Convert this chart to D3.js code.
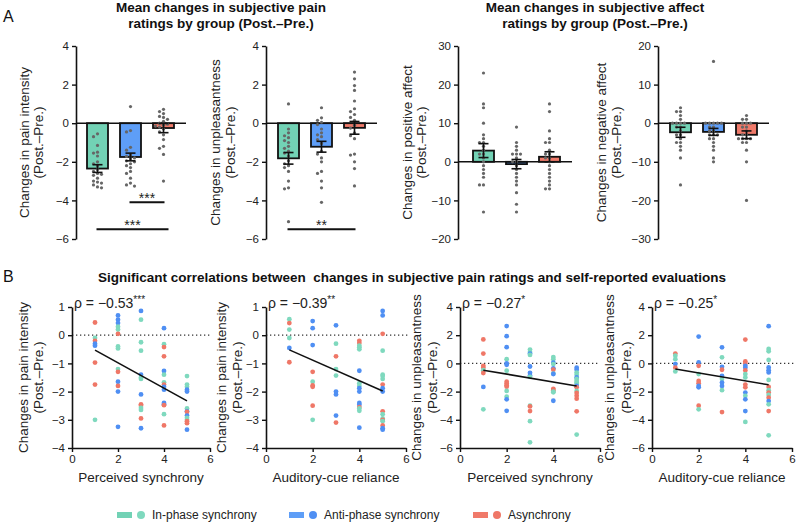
<!DOCTYPE html>
<html>
<head>
<meta charset="utf-8">
<script src="https://cdn.jsdelivr.net/npm/d3@7"></script>
<style>
  body { margin: 0; background: #fff; }
  svg { display: block; }
</style>
</head>
<body>
<script>
"use strict";

// ---- data ----
var groups = ["In-phase synchrony", "Anti-phase synchrony", "Asynchrony"];
var barColors = ["#72d2b5", "#5e9ef7", "#f07a6a"];
var dotColors = ["#7fd9be", "#4f8ff3", "#ef7767"];

// panel A: mean, sem, and individual changes (Post.-Pre.) per group
var painIntMeans = [-2.35, -1.75, -0.25];
var painIntSem = [0.2, 0.2, 0.24];
var painIntPts = [
	[-0.55, -0.7, -1.15, -1.5, -1.55, -1.7, -2.0, -2.1, -2.2, -2.4, -2.5, -2.6, -2.65, -2.7, -2.85, -3.0, -3.05, -3.1, -3.2, -3.3, -3.35],
	[0.86, -0.38, -0.45, -1.25, -1.4, -1.65, -1.72, -1.8, -1.85, -1.95, -2.0, -2.1, -2.2, -2.3, -2.5, -2.6, -2.85, -3.1, -3.2, -3.26],
	[0.72, 0.6, 0.5, 0.35, 0.3, 0.2, 0.1, 0, -0.05, -0.1, -0.15, -0.2, -0.3, -0.45, -0.6, -0.85, -1.2, -1.3, -1.62, -3.0]
];
var unplMeans = [-1.82, -1.22, -0.24];
var unplSem = [0.3, 0.28, 0.33];
var unplPts = [
	[1.0, -0.3, -0.5, -0.65, -0.75, -0.9, -1.0, -1.2, -1.3, -1.45, -1.55, -1.7, -1.95, -2.1, -2.2, -2.3, -2.5, -3.0, -3.35, -3.4, -5.1],
	[0.8, 0.28, 0.15, 0.05, -0.07, -0.3, -0.5, -0.6, -0.7, -0.85, -1.05, -1.45, -1.6, -1.8, -2.0, -2.5, -2.6, -3.0, -3.35, -4.1],
	[2.65, 2.3, 1.95, 1.7, 1.15, 0.75, 0.6, 0.45, 0.3, 0.15, -0.1, -0.25, -0.5, -0.65, -0.8, -1.6, -1.65, -2.0, -2.35, -3.25]
];
var posMeans = [2.9, -0.6, 1.3];
var posSem = [1.8, 1.2, 1.3];
var posPts = [
	[23, 15, 14, 10, 7, 6, 5, 5, 4, 3, 2, 2, 1, 0, -1, -2, -3, -4, -6, -6, -13],
	[9, 5, 4, 3, 2, 2, 2, 1, 0, 0, -1, -2, -3, -4, -5, -6, -8, -11, -13],
	[15, 13, 8, 6, 5, 5, 3, 2, 2, 1, 1, 0, -1, -2, -3, -4, -5, -6, -7, -7]
];
var negMeans = [-2.35, -2.25, -3.0];
var negSem = [1.3, 0.9, 1.0];
var negPts = [
	[4, 3, 3, 2, 1, 0, 0, 0, 0, -1, -1, -2, -3, -3, -4, -5, -5, -6, -7, -9, -16],
	[16, 0, 0, 0, 0, 0, -1, -1, -2, -2, -3, -3, -3, -4, -4, -5, -6, -7, -9, -10],
	[2, 1, 1, 0, 0, 0, -1, -1, -2, -3, -3, -4, -4, -4, -4, -5, -5, -7, -10, -20]
];
// significance brackets: [fromGroup, toGroup, yValue, label]
var painIntSig = [[1, 2, -4.1, "***"], [0, 2, -5.5, "***"]];
var unplSig = [[0, 2, -5.5, "**"]];

// panel B: [rating, change, group]
var syncVsInt = [
	[1,0.45,2],[1,-0.1,0],[1,-0.2,2],[1,-0.3,1],[1,-0.37,1],[1,-0.97,2],[1,-1.75,2],[1,-3.0,0],
	[2,0.7,1],[2,0.55,1],[2,0.43,1],[2,0.3,0],[2,0.2,0],[2,0.05,2],[2,-0.4,0],[2,-0.47,0],[2,-1.2,0],[2,-1.3,2],[2,-1.65,1],[2,-1.8,2],[2,-2.0,1],[2,-3.25,1],
	[3,0.86,1],[3,0.55,0],[3,-0.25,0],[3,-0.55,0],[3,-1.4,1],[3,-1.5,0],[3,-1.55,0],[3,-2.1,1],[3,-2.45,2],[3,-2.5,2],[3,-2.58,0],[3,-2.65,0],[3,-2.95,2],[3,-3.3,1],
	[4,0.25,1],[4,-0.32,0],[4,-0.42,2],[4,-0.75,2],[4,-1.27,1],[4,-1.4,0],[4,-1.67,0],[4,-1.75,2],[4,-1.83,1],[4,-1.93,1],[4,-2.4,1],[4,-2.45,1],[4,-2.48,2],[4,-2.8,0],[4,-3.2,2],
	[5,-1.45,0],[5,-1.75,0],[5,-1.83,0],[5,-1.93,1],[5,-2.0,1],[5,-2.6,0],[5,-2.7,1],[5,-2.72,2],[5,-2.85,1],[5,-2.93,0],[5,-3.0,0],[5,-3.05,2],[5,-3.12,2],[5,-3.35,1]
];
var cueVsInt = [
	[1,0.57,0],[1,0.43,2],[1,0.2,0],[1,-0.1,0],[1,-0.45,1],[1,-0.96,2],
	[2,0.5,1],[2,0.25,1],[2,-0.35,1],[2,-1.3,2],[2,-1.65,0],[2,-1.78,2],[2,-1.83,2],[2,-2.5,2],[2,-3.0,0],
	[3,0.35,1],[3,-0.3,0],[3,-0.75,2],[3,-1.2,0],[3,-1.43,0],[3,-2.0,1],[3,-2.1,1],[3,-2.85,1],[3,-3.1,2],
	[4,-0.2,2],[4,-0.28,2],[4,-0.37,0],[4,-0.43,0],[4,-0.5,0],[4,-1.26,1],[4,-1.7,0],[4,-1.8,0],[4,-1.88,1],[4,-2.0,1],[4,-2.4,1],[4,-2.47,1],[4,-2.55,2],[4,-2.6,0],[4,-2.68,0],[4,-3.28,1],
	[5,0.86,1],[5,0.7,1],[5,0.05,2],[5,-0.55,0],[5,-1.4,0],[5,-1.45,0],[5,-1.55,0],[5,-1.75,2],[5,-1.88,1],[5,-2.0,1],[5,-2.7,2],[5,-2.8,0],[5,-2.95,0],[5,-3.0,2],[5,-3.05,0],[5,-3.2,2],[5,-3.3,1],[5,-3.35,1]
];
var syncVsUnpl = [
	[1,1.7,2],[1,0.7,2],[1,-0.17,2],[1,-0.3,2],[1,-0.48,0],[1,-0.68,2],[1,-1.67,1],[1,-3.26,0],
	[2,2.65,1],[2,1.93,1],[2,1.15,1],[2,0.3,0],[2,0.0,1],[2,-0.1,1],[2,-0.52,0],[2,-1.3,2],[2,-1.43,2],[2,-1.55,2],[2,-1.65,2],[2,-1.95,0],[2,-2.36,0],[2,-2.55,1],[2,-3.36,1],
	[3,0.98,0],[3,0.8,0],[3,0.7,1],[3,0.6,0],[3,-0.22,1],[3,-0.67,1],[3,-0.85,1],[3,-0.95,0],[3,-3.0,0],[3,-3.05,2],[3,-3.38,2],[3,-4.1,0],[3,-5.6,0],
	[4,0.45,0],[4,0.3,0],[4,0.05,1],[4,-0.05,0],[4,-0.35,1],[4,-0.45,2],[4,-0.72,0],[4,-0.75,1],[4,-1.8,2],[4,-1.9,2],[4,-2.0,0],[4,-2.05,0],[4,-2.65,1],
	[5,-0.3,1],[5,-0.45,1],[5,-0.65,0],[5,-0.8,0],[5,-1.0,1],[5,-1.1,0],[5,-1.25,0],[5,-1.35,0],[5,-1.45,0],[5,-1.6,1],[5,-1.7,2],[5,-1.95,0],[5,-2.1,2],[5,-2.3,2],[5,-2.5,2],[5,-3.4,2],[5,-5.05,0]
];
var cueVsUnpl = [
	[1,0.7,2],[1,0.55,0],[1,0.3,0],[1,-0.05,1],[1,-0.3,2],[1,-0.57,0],
	[2,1.9,1],[2,0.07,1],[2,-0.17,2],[2,-0.76,0],[2,-1.24,2],[2,-1.4,2],[2,-1.6,1],[2,-1.7,1],[2,-3.0,2],[2,-3.26,0],
	[3,1.14,1],[3,0.43,0],[3,-0.24,1],[3,-0.45,2],[3,-0.88,1],[3,-1.1,0],[3,-1.36,1],[3,-1.6,1],[3,-1.9,0],[3,-3.45,2],
	[4,1.69,2],[4,0.14,2],[4,0.0,2],[4,-0.17,1],[4,-0.3,1],[4,-0.5,2],[4,-0.76,0],[4,-1.0,0],[4,-1.5,2],[4,-1.7,2],[4,-2.07,1],[4,-2.3,0],[4,-2.55,1],[4,-3.38,1],[4,-4.15,0],
	[5,2.64,1],[5,1.02,0],[5,0.86,0],[5,0.24,0],[5,-0.29,1],[5,-0.48,1],[5,-0.64,1],[5,-1.17,0],[5,-1.67,2],[5,-1.9,0],[5,-2.07,2],[5,-2.24,0],[5,-2.43,2],[5,-2.67,1],[5,-2.9,0],[5,-3.38,2],[5,-5.1,0]
];
// fitted line values at rating 1 and 5
var fitLines = [[-0.53, -2.33], [-0.52, -1.98], [-0.48, -1.6], [-0.4, -1.52]];
var rhoText = ["ρ = −0.53", "ρ = −0.39", "ρ = −0.27", "ρ = −0.25"];
var rhoStars = ["***", "**", "*", "*"];

var fmt = function (d) { return d < 0 ? "\u2212" + Math.abs(d) : String(d); };
var FONT = "'Liberation Sans', Arial, Helvetica, sans-serif";

var svg = d3.select("body").append("svg")
	.attr("width", 800).attr("height", 524)
	.style("font-family", FONT);

function styleAxis(g) {
	g.select(".domain").attr("stroke", "#111").attr("stroke-width", 1.6);
	g.selectAll(".tick line").attr("stroke", "#111").attr("stroke-width", 1.4);
	g.selectAll(".tick text").attr("fill", "#222").style("font-size", "11.5px").style("font-family", FONT);
}

function rotLabel(lines, x1, x2, yc) {
	[x1, x2].forEach(function (x, i) {
		svg.append("text")
			.attr("transform", "translate(" + x + "," + yc + ") rotate(-90)")
			.attr("text-anchor", "middle")
			.attr("dominant-baseline", "central")
			.style("font-size", "13.5px")
			.attr("fill", "#222")
			.text(lines[i]);
	});
}

// simple column swarm so dots don't overlap
function swarm(vals, y, cx) {
	var pts = vals.map(function (v) { return { v: v, y: y(v) }; })
		.sort(function (a, b) { return a.y - b.y; });
	var offs = [0, -4, 4, -8, 8, -12, 12, -16, 16];
	var placed = [];
	pts.forEach(function (p) {
		for (var i = 0; i < offs.length; i++) {
			var cand = cx + offs[i];
			var ok = placed.every(function (q) { return Math.hypot(q.x - cand, q.y - p.y) >= 3.8; });
			if (ok) { p.x = cand; break; }
		}
		if (p.x === undefined) p.x = cx;
		placed.push(p);
	});
	return pts;
}

// ---- panel A ----
var barPanels = [
	{ ax: 76, off: 5, dom: [-6, 4], ticks: [-6, -4, -2, 0, 2, 4], means: painIntMeans, sem: painIntSem, pts: painIntPts,
		sig: painIntSig, label: ["Changes in pain intensity", "(Post.\u2013Pre.)"], lx: [24, 38] },
	{ ax: 266, off: 6, dom: [-6, 4], ticks: [-6, -4, -2, 0, 2, 4], means: unplMeans, sem: unplSem, pts: unplPts,
		sig: unplSig, label: ["Changes in unpleasantness", "(Post.\u2013Pre.)"], lx: [215, 230] },
	{ ax: 458, off: 9, dom: [-20, 30], ticks: [-20, -10, 0, 10, 20, 30], means: posMeans, sem: posSem, pts: posPts,
		sig: [], label: ["Changes in positive affect", "(Post.\u2013Pre.)"], lx: [407, 421] },
	{ ax: 658, off: 6, dom: [-30, 20], ticks: [-30, -20, -10, 0, 10, 20], means: negMeans, sem: negSem, pts: negPts,
		sig: [], label: ["Changes in negative affect", "(Post.\u2013Pre.)"], lx: [601, 616] }
];

barPanels.forEach(function (p) {
	var y = d3.scaleLinear().domain(p.dom).range([239, 46]);
	var x = d3.scaleBand().domain(groups).range([p.ax + p.off, p.ax + p.off + 99]);
	var bw = 21;
	var cx = function (i) { return x(groups[i]) + x.bandwidth() / 2; };

	svg.selectAll(null).data(p.means).enter().append("rect")
		.attr("x", function (d, i) { return cx(i) - bw / 2; })
		.attr("y", function (d) { return Math.min(y(0), y(d)); })
		.attr("width", bw)
		.attr("height", function (d) { return Math.abs(y(d) - y(0)); })
		.attr("fill", function (d, i) { return barColors[i]; })
		.attr("stroke", "#111").attr("stroke-width", 1.8);

	svg.append("line")
		.attr("x1", p.ax).attr("x2", p.ax + p.off + 105)
		.attr("y1", y(0)).attr("y2", y(0))
		.attr("stroke", "#111").attr("stroke-width", 1.6);

	p.pts.forEach(function (vals, i) {
		svg.selectAll(null).data(swarm(vals, y, cx(i))).enter().append("circle")
			.attr("cx", function (d) { return d.x; })
			.attr("cy", function (d) { return d.y; })
			.attr("r", 1.6)
			.attr("fill", "#666");
	});

	// error bars (mean +- sem)
	p.means.forEach(function (m, i) {
		var c = cx(i), lo = y(m - p.sem[i]), hi = y(m + p.sem[i]);
		var g = svg.append("g").attr("stroke", "#111").attr("stroke-width", 1.6);
		g.append("line").attr("x1", c).attr("x2", c).attr("y1", lo).attr("y2", hi);
		g.append("line").attr("x1", c - 5).attr("x2", c + 5).attr("y1", lo).attr("y2", lo);
		g.append("line").attr("x1", c - 5).attr("x2", c + 5).attr("y1", hi).attr("y2", hi);
	});

	p.sig.forEach(function (s) {
		var x1 = cx(s[0]) - 1, x2 = cx(s[1]) + (s[0] === 0 && s[1] === 2 && p.sig.length > 1 ? 5 : 1);
		svg.append("line").attr("x1", x1).attr("x2", x2)
			.attr("y1", y(s[2])).attr("y2", y(s[2]))
			.attr("stroke", "#111").attr("stroke-width", 2);
		svg.append("text").attr("x", (x1 + x2) / 2).attr("y", y(s[2]) + 1)
			.attr("text-anchor", "middle").style("font-size", "14px").attr("fill", "#222")
			.text(s[3]);
	});

	svg.append("g").attr("transform", "translate(" + p.ax + ",0)")
		.call(d3.axisLeft(y).tickValues(p.ticks).tickSize(4).tickSizeOuter(0).tickFormat(fmt))
		.call(styleAxis);

	rotLabel(p.label, p.lx[0], p.lx[1], 142.5);
});

// panel A titles
[[221, ["Mean changes in subjective pain", "ratings by group (Post.\u2013Pre.)"]],
 [595, ["Mean changes in subjective affect", "ratings by group (Post.\u2013Pre.)"]]].forEach(function (t) {
	t[1].forEach(function (s, i) {
		svg.append("text").attr("x", t[0]).attr("y", 12 + i * 16)
			.attr("text-anchor", "middle").style("font-size", "13.5px").style("font-weight", "bold")
			.attr("fill", "#111").text(s);
	});
});

svg.append("text").attr("x", 3).attr("y", 22).style("font-size", "16px").attr("fill", "#111").text("A");
svg.append("text").attr("x", 3).attr("y", 282).style("font-size", "16px").attr("fill", "#111").text("B");

svg.append("text").attr("x", 412).attr("y", 282).attr("text-anchor", "middle")
	.style("font-size", "13.5px").style("font-weight", "bold").style("white-space", "pre").attr("fill", "#111")
	.text("Significant correlations between  changes in subjective pain ratings and self-reported evaluations");

// ---- panel B ----
var scatterPanels = [
	{ ax: 72, w: 138, data: syncVsInt, dom: [-4, 1], ticks: [-4, -3, -2, -1, 0, 1], xlab: "Perceived synchrony",
		label: ["Changes in pain intensity", "(Post.\u2013Pre.)"], lx: [23, 38], zeroEnd: 212 },
	{ ax: 266, w: 140, data: cueVsInt, dom: [-4, 1], ticks: [-4, -3, -2, -1, 0, 1], xlab: "Auditory-cue reliance",
		label: ["Changes in pain intensity", "(Post.\u2013Pre.)"], lx: [221, 237], zeroEnd: 410 },
	{ ax: 460, w: 140, data: syncVsUnpl, dom: [-6, 4], ticks: [-6, -4, -2, 0, 2, 4], xlab: "Perceived synchrony",
		label: ["Changes in unpleasantness", "(Post.\u2013Pre.)"], lx: [416, 432], zeroEnd: 600 },
	{ ax: 652, w: 140, data: cueVsUnpl, dom: [-6, 4], ticks: [-6, -4, -2, 0, 2, 4], xlab: "Auditory-cue reliance",
		label: ["Changes in unpleasantness", "(Post.\u2013Pre.)"], lx: [609, 626], zeroEnd: 796 }
];

scatterPanels.forEach(function (p, k) {
	var x = d3.scaleLinear().domain([0, 6]).range([p.ax, p.ax + p.w]);
	var y = d3.scaleLinear().domain(p.dom).range([448, 307]);

	svg.append("line").attr("x1", p.ax).attr("x2", p.zeroEnd)
		.attr("y1", y(0)).attr("y2", y(0))
		.attr("stroke", "#333").attr("stroke-width", 1.3).attr("stroke-dasharray", "1.3,2.7");

	svg.selectAll(null).data(p.data).enter().append("circle")
		.attr("cx", function (d) { return x(d[0]); })
		.attr("cy", function (d) { return y(d[1]); })
		.attr("r", 2.4)
		.attr("fill", function (d) { return dotColors[d[2]]; });

	svg.append("line")
		.attr("x1", x(1)).attr("y1", y(fitLines[k][0]))
		.attr("x2", x(5)).attr("y2", y(fitLines[k][1]))
		.attr("stroke", "#111").attr("stroke-width", 1.6);

	svg.append("g").attr("transform", "translate(" + p.ax + ",0)")
		.call(d3.axisLeft(y).tickValues(p.ticks).tickSize(4).tickSizeOuter(0).tickFormat(fmt))
		.call(styleAxis);
	svg.append("g").attr("transform", "translate(0,448)")
		.call(d3.axisBottom(x).tickValues([0, 2, 4, 6]).tickSize(4).tickSizeOuter(0).tickFormat(fmt))
		.call(styleAxis);

	svg.append("text").attr("x", p.ax + p.w / 2).attr("y", 482)
		.attr("text-anchor", "middle").style("font-size", "13.5px").attr("fill", "#222")
		.text(p.xlab);

	var rt = svg.append("text").attr("x", p.ax + 2).attr("y", 308)
		.style("font-size", "14px").attr("fill", "#222");
	rt.append("tspan").text(rhoText[k]);
	rt.append("tspan").attr("dy", -5).style("font-size", "10px").text(rhoStars[k]);

	rotLabel(p.label, p.lx[0], p.lx[1], 377.5);
});

// ---- legend ----
var legX = [117, 289, 473];
groups.forEach(function (gname, i) {
	svg.append("rect").attr("x", legX[i]).attr("y", 512).attr("width", 15).attr("height", 6)
		.attr("fill", barColors[i]);
	svg.append("circle").attr("cx", legX[i] + 24).attr("cy", 515).attr("r", 4)
		.attr("fill", dotColors[i]);
	svg.append("text").attr("x", legX[i] + 35).attr("y", 515)
		.attr("dominant-baseline", "central").style("font-size", "12px").attr("fill", "#222")
		.text(gname);
});
</script>
</body>
</html>
